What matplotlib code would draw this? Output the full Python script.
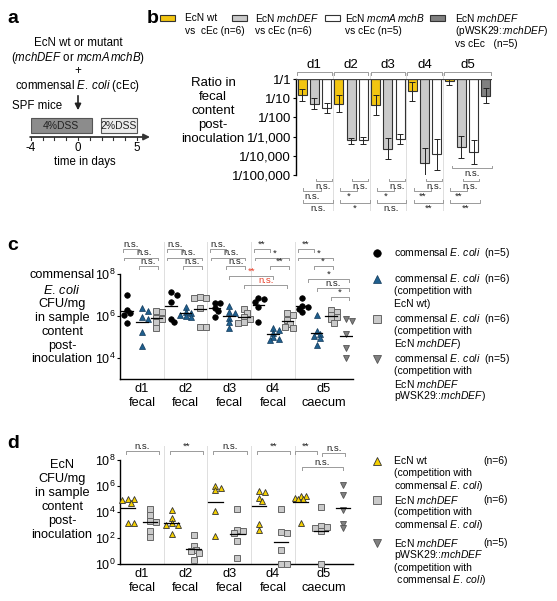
import numpy as np
import matplotlib
matplotlib.use('Agg')
import matplotlib.pyplot as plt
from matplotlib.lines import Line2D
from matplotlib.patches import Rectangle, FancyArrowPatch
from matplotlib.transforms import blended_transform_factory as btf

plt.rcParams['font.family'] = ['Liberation Sans', 'DejaVu Sans']
plt.rcParams['mathtext.fontset'] = 'custom'
plt.rcParams['mathtext.rm'] = 'Liberation Sans'
plt.rcParams['mathtext.it'] = 'Liberation Sans:italic'
plt.rcParams['mathtext.bf'] = 'Liberation Sans:bold'

# ------------------------------------------------------------------ data
days = ['d1', 'd2', 'd3', 'd4', 'd5']
sites = ['fecal', 'fecal', 'fecal', 'fecal', 'caecum']

# panel a: DSS schedule (days)
dss_labels = ['4%DSS', '2%DSS']
dss_start = [-4.0, 1.95]
dss_end = [1.15, 5.0]
dss_colors = ['#8c8c8c', '#ececec']
time_ticks = list(range(-4, 6))
time_labels = {-4: '-4', 0: '0', 5: '5'}

# panel b: log10 ratio EcN / cEc (bar value, lower, upper error bound)
b_wt = [-0.84, -1.32, -1.37, -0.63, -0.10]
b_wt_lo = [-1.16, -1.74, -1.90, -1.16, -0.30]
b_wt_hi = [-0.53, -0.84, -0.84, -0.16, 0.00]
b_mch = [-1.32, -3.20, -3.63, -4.37, -3.53]
b_mch_lo = [-1.58, -3.40, -4.16, -5.05, -4.10]
b_mch_hi = [-1.00, -3.05, -3.05, -3.58, -2.95]
b_mcm = [-1.53, -3.16, -3.10, -3.90, -3.79]
b_mcm_lo = [-1.79, -3.37, -3.37, -4.74, -4.42]
b_mcm_hi = [-1.26, -3.00, -2.84, -3.10, -3.20]
b_comp = [None, None, None, None, -0.89]
b_comp_lo = [None, None, None, None, -1.26]
b_comp_hi = [None, None, None, None, -0.47]
b_ticklabels = ['1/100,000', '1/10,000', '1/1,000', '1/100', '1/10', '1/1']
b_sig_row1 = ['n.s.', 'n.s.', 'n.s.', 'n.s.', 'n.s.']   # mchDEF vs mcmA mchB
b_sig_row2 = ['n.s.', '*', '*', '**', '**']              # wt vs mchDEF
b_sig_row3 = ['n.s.', '*', 'n.s.', '**', '**']           # wt vs mcmA mchB
b_sig_d5 = 'n.s.'                                        # wt vs complemented

# panel c: log10 CFU/mg commensal E. coli
c_cec = [[6.99, 6.28, 6.13, 6.05, 5.65], [7.12, 7.02, 6.69, 5.87, 5.70],
         [6.62, 6.60, 6.40, 6.25, 5.95], [6.88, 6.79, 6.68, 6.44, 5.73],
         [6.85, 6.50, 6.42, 6.35, 6.20]]
c_vs_wt = [[6.36, 6.25, 5.95, 5.84, 5.26, 4.58], [6.45, 6.18, 6.12, 6.05, 5.98, 5.95],
           [6.50, 6.20, 6.15, 5.90, 5.70, 5.45], [5.45, 5.35, 5.20, 5.00, 4.90, 4.85],
           [6.05, 5.30, 5.15, 5.05, 4.95, 4.62]]
c_vs_mch = [[6.25, 6.18, 5.92, 5.85, 5.70, 5.43], [6.90, 6.85, 6.85, 6.36, 5.48, 5.48],
            [6.31, 6.13, 5.97, 5.84, 5.73, 5.65], [6.16, 6.05, 5.81, 5.61, 5.50, 5.42],
            [6.28, 6.18, 6.05, 5.95, 5.84, 5.68]]
c_vs_comp = [None, None, None, None, [5.86, 5.78, 5.14, 4.46, 3.99]]
c_sig_row1 = ['n.s.', 'n.s.', 'n.s.', '**', '**']
c_sig_row2 = ['n.s.', 'n.s.', 'n.s.', '*', '*']
c_sig_row3 = ['n.s.', 'n.s.', 'n.s.', '**', '*']
c_sig_d5_extra = ['*', 'n.s.', '*']
c_sig_red = ['**', 'n.s.']

# panel d: log10 CFU/mg EcN
d_wt = [[5.03, 4.97, 4.90, 4.72, 3.18, 3.18], [4.15, 3.56, 3.18, 2.97, 2.97, 2.28],
        [6.02, 5.84, 5.66, 4.07, 2.13], [5.64, 5.54, 5.08, 4.82, 3.08, 2.64],
        [5.23, 5.20, 5.10, 5.02, 5.00, 3.15]]
d_mch = [[4.26, 3.74, 3.31, 3.23, 2.54, 2.10], [2.20, 1.35, 1.05, 1.02, 0.84, 0.33],
         [4.25, 2.64, 2.56, 2.38, 1.74, 0.46], [4.23, 2.43, 2.38, 1.10, 0.0, 0.0],
         [4.38, 2.90, 2.85, 2.77, 2.56, 0.0]]
d_comp = [None, None, None, None, [6.05, 5.33, 4.18, 3.10, 2.77]]
d_sig = ['n.s.', '**', 'n.s.', '**', '**']
d_sig_d5 = ['n.s.', 'n.s.']

# ------------------------------------------------------------------ helpers
W, H = 557, 601
fig = plt.figure(figsize=(W / 100, H / 100), dpi=100)

ECOLI = r'$\mathit{E.\,coli}$'


def fx(x):
    return x / W


def fy(y):
    return 1 - y / H


def T(x, y, s, size=7.5, ha='left', va='center', **kw):
    return fig.text(fx(x), fy(y), s, fontsize=size, ha=ha, va=va, **kw)


def rect(x0, y0, x1, y1):
    return [x0 / W, 1 - y1 / H, (x1 - x0) / W, (y1 - y0) / H]


def mark(x, y, **kw):
    fig.add_artist(Line2D([fx(x)], [fy(y)], transform=fig.transFigure, **kw))


GR = '#9a9a9a'
SEP = '#dedede'
YEL = '#f2c511'
LGR = '#cacaca'
DGR = '#808080'
BLU = '#1f5f8e'
RED = '#e8402a'

slot_start = [0, 3, 6, 9, 12]
seps = [2.5, 5.5, 8.5, 11.5]


def bracket(ax, x0, x1, ypx, label, up=True, text_below=True, color='#222', lcol=GR,
            size=6.8, tx=None):
    tr = btf(ax.transData, fig.transFigure)
    d = 2.5 if up else -2.5
    ax.plot([x0, x0, x1, x1], [fy(ypx - d), fy(ypx), fy(ypx), fy(ypx - d)],
            transform=tr, color=lcol, lw=0.7, clip_on=False)
    xt = (x0 + x1) / 2 if tx is None else tx
    if text_below:
        ax.text(xt, fy(ypx + 1.0), label, transform=tr, ha='center', va='top',
                fontsize=size, color=color)
    else:
        ax.text(xt, fy(ypx - 0.2), label, transform=tr, ha='center', va='bottom',
                fontsize=size, color=color)


def vsep(ax, x, ytop, ybot):
    tr = btf(ax.transData, fig.transFigure)
    ax.plot([x, x], [fy(ytop), fy(ybot)], transform=tr, color=SEP, lw=0.7, clip_on=False, zorder=0)


# ------------------------------------------------------------------ panel a
T(7, 23, 'a', size=14, va='baseline', weight='bold')
T(78, 43, 'EcN wt or mutant', size=8.3, ha='center')
T(78, 58, r'($\mathit{mchDEF}$ or $\mathit{mcmA\,mchB}$)', size=8.3, ha='center')
T(78, 71, '+', size=8.3, ha='center')
T(78, 86, 'commensal ' + ECOLI + ' (cEc)', size=8.3, ha='center')
T(12, 106, 'SPF mice', size=8.3)
fig.add_artist(FancyArrowPatch((fx(78), fy(93)), (fx(78), fy(113)), transform=fig.transFigure,
                               arrowstyle='-|>', mutation_scale=9, lw=1.2, color='#222'))
ax_a = fig.add_axes(rect(30.7, 112, 150, 142))
ax_a.set_xlim(-4, 6.1)
ax_a.set_ylim(142, 112)
ax_a.axis('off')
for lab, d0, d1, fc in zip(dss_labels, dss_start, dss_end, dss_colors):
    ax_a.add_patch(Rectangle((d0, 118), d1 - d0, 15, fc=fc, ec='#555', lw=0.8))
    ax_a.text((d0 + d1) / 2, 126, lab, ha='center', va='center', fontsize=7.5, color='#222')
ax_a.annotate('', xy=(6.1, 137), xytext=(-4.05, 137),
              arrowprops=dict(arrowstyle='-|>', lw=1.3, color='#333', mutation_scale=9,
                              shrinkA=0, shrinkB=0))
for d in time_ticks:
    ax_a.plot([d, d], [137, 140.5], color='#333', lw=0.8, clip_on=False)
    if d in time_labels:
        ax_a.text(d, 148, time_labels[d], ha='center', va='center', fontsize=8.3, clip_on=False)
ax_a.text(0.6, 162, 'time in days', ha='center', va='center', fontsize=8.3, clip_on=False)

# ------------------------------------------------------------------ panel b
T(147, 23, 'b', size=14, va='baseline', weight='bold')
leg_b = [
    (160, YEL, ['EcN wt', 'vs  cEc (n=6)'], 185),
    (232, LGR, [r'EcN $\mathit{mchDEF}$', 'vs cEc (n=6)'], 255),
    (325, 'white', [r'EcN $\mathit{mcmA\,mchB}$', 'vs cEc (n=5)'], 345),
    (430, DGR, [r'EcN $\mathit{mchDEF}$', r'(pWSK29::$\mathit{mchDEF}$)', 'vs cEc   (n=5)'], 455),
]
for bx, col, lines, tx in leg_b:
    fig.add_artist(Rectangle((fx(bx), fy(21)), 15 / W, 6 / H, transform=fig.transFigure,
                             fc=col, ec='#333', lw=0.8))
    for k, s in enumerate(lines):
        T(tx, 18 + 13 * k, s, size=7.3)

ax_b = fig.add_axes(rect(296, 79, 492, 175))
ax_b.set_yscale('log')
ax_b.set_ylim(1e-5, 1)
ax_b.set_xlim(-0.5, 15.5)
series_b = [(b_wt, b_wt_lo, b_wt_hi, YEL), (b_mch, b_mch_lo, b_mch_hi, LGR),
            (b_mcm, b_mcm_lo, b_mcm_hi, 'white'), (b_comp, b_comp_lo, b_comp_hi, DGR)]
for j, (vals, lo, hi, col) in enumerate(series_b):
    for i in range(5):
        if vals[i] is None:
            continue
        x = slot_start[i] + j
        v = 10 ** vals[i]
        ax_b.bar(x, v - 1, bottom=1, width=0.72, color=col, edgecolor='#333', lw=0.8, zorder=2)
        ax_b.errorbar(x, v, yerr=[[v - 10 ** lo[i]], [10 ** hi[i] - v]], fmt='none',
                      ecolor='#222', elinewidth=0.7, capsize=2, capthick=0.7, zorder=3)
ax_b.axhline(1, color='#444', lw=1.6, zorder=4)
for s in ['top', 'right', 'bottom']:
    ax_b.spines[s].set_visible(False)
ax_b.spines['left'].set_linewidth(1.0)
ax_b.set_yticks([1e-5, 1e-4, 1e-3, 1e-2, 1e-1, 1])
ax_b.set_yticklabels(b_ticklabels)
ax_b.yaxis.set_minor_locator(matplotlib.ticker.NullLocator())
ax_b.tick_params(axis='y', length=2.5, width=0.8, pad=1, labelsize=9.5)
ax_b.set_xticks([])
for x in seps:
    vsep(ax_b, x, 73, 210)
day_end_b = [2, 5, 8, 11, 15]
for i in range(5):
    x0, x1 = slot_start[i] - 0.4, day_end_b[i] + 0.4
    bracket(ax_b, x0, x1, 72, '', up=False, text_below=False)
    ax_b.text((slot_start[i] + day_end_b[i]) / 2, fy(65), days[i],
              transform=btf(ax_b.transData, fig.transFigure),
              ha='center', va='center', fontsize=9.5)
    s0 = slot_start[i]
    bracket(ax_b, s0 + 1.1, s0 + 2.4, 181, b_sig_row1[i], up=True)
    bracket(ax_b, s0 + 0.1, s0 + 1.5, 191, b_sig_row2[i], up=True)
    bracket(ax_b, s0 + 0.1, s0 + 2.5, 203, b_sig_row3[i], up=True)
bracket(ax_b, 12.2, 15.5, 168, b_sig_d5, up=True)
T(213, 111, 'Ratio in\nfecal\ncontent\npost-\ninoculation', size=9.5, ha='center',
  multialignment='center')


# ------------------------------------------------------------------ swarm helper
def swarm(vals, center, pxdec, pxslot, r=4.2, step=0.2):
    placed, out = [], np.zeros(len(vals))
    for i in range(len(vals)):
        y = vals[i] * pxdec
        best, bestd = 0.0, -1
        for k in [0, 1, -1, 2, -2]:
            xo = k * step * pxslot
            dmin = min([np.hypot(xo - px, y - py) for px, py in placed] + [99])
            if dmin >= r:
                best = xo
                break
            if dmin > bestd:
                best, bestd = xo, dmin
        placed.append((best, y))
        out[i] = center + best / pxslot
    return out


def setup_scatter_axes(ax, ylim, ticks):
    ax.set_yscale('log')
    ax.set_ylim(*ylim)
    ax.set_xlim(-0.5, 15.5)
    for s in ['top', 'right']:
        ax.spines[s].set_visible(False)
    ax.spines['left'].set_linewidth(1.0)
    ax.spines['bottom'].set_linewidth(1.0)
    ax.set_yticks(ticks)
    ax.set_yticklabels([r'10$^{%d}$' % int(np.log10(t)) for t in ticks])
    ax.yaxis.set_minor_locator(matplotlib.ticker.NullLocator())
    ax.tick_params(axis='y', length=2.5, width=0.8, pad=1, labelsize=9)
    centers = [1, 4, 7, 10, 13.5]
    ax.set_xticks(centers)
    ax.set_xticklabels([f'{d}\n{s}' for d, s in zip(days, sites)])
    ax.tick_params(axis='x', length=0, pad=3, labelsize=9.2)


# ------------------------------------------------------------------ panel c
T(7, 250, 'c', size=14, va='baseline', weight='bold')
ax_c = fig.add_axes(rect(120, 274, 353, 379))
setup_scatter_axes(ax_c, (1e3, 1e8), [1e4, 1e6, 1e8])
pxslot = 233 / 16.0
series_c = [(c_cec, dict(marker='o', mfc='black', mec='black', ms=4.0, mew=0.5)),
            (c_vs_wt, dict(marker='^', mfc=BLU, mec='#12395a', ms=4.4, mew=0.5)),
            (c_vs_mch, dict(marker='s', mfc=LGR, mec='#666', ms=4.2, mew=0.7)),
            (c_vs_comp, dict(marker='v', mfc=DGR, mec='#555', ms=4.4, mew=0.6))]
for j, (data, st) in enumerate(series_c):
    for i in range(5):
        if data[i] is None:
            continue
        vals = np.array(data[i])
        xc = slot_start[i] + j
        xs = swarm(vals, xc, 21.0, pxslot)
        ax_c.plot(xs, 10 ** vals, ls='none', clip_on=False, zorder=3, **st)
        m = vals.mean()
        ax_c.plot([xc - 0.4, xc + 0.4], [10 ** m, 10 ** m], color='black', lw=0.9, zorder=4)
for x in seps:
    vsep(ax_c, x, 242, 379)
for i in range(5):
    s0 = slot_start[i]
    bracket(ax_c, s0 - 0.3, s0 + 0.8, 249, c_sig_row1[i], up=False, text_below=False)
    bracket(ax_c, s0 - 0.25, s0 + 2.1, 257.5, c_sig_row2[i], up=False, text_below=False,
            tx=s0 + 1.15)
    bracket(ax_c, s0 + 0.8, s0 + 2.1, 266, c_sig_row3[i], up=False, text_below=False)
bracket(ax_c, 12.4, 15.2, 279, c_sig_d5_extra[0], up=False, text_below=False)
bracket(ax_c, 13.0, 15.2, 288, c_sig_d5_extra[1], up=False, text_below=False)
bracket(ax_c, 14.0, 15.2, 297, c_sig_d5_extra[2], up=False, text_below=False)
bracket(ax_c, 7.0, 10.0, 276, c_sig_red[0], up=False, text_below=False, color=RED)
bracket(ax_c, 8.0, 11.0, 285, c_sig_red[1], up=False, text_below=False, color=RED)
T(62, 317.5, 'commensal\n' + ECOLI + '\nCFU/mg\nin sample\ncontent\npost-\ninoculation',
  size=9.2, ha='center', multialignment='center')

leg_c = [
    (253, series_c[0][1], ['commensal ' + ECOLI + '  (n=5)']),
    (279, series_c[1][1], ['commensal ' + ECOLI + '  (n=6)', '(competition with', 'EcN wt)']),
    (319, series_c[2][1], ['commensal ' + ECOLI + '  (n=6)', '(competition with',
                           r'EcN $\mathit{mchDEF}$)']),
    (359, series_c[3][1], ['commensal ' + ECOLI + '  (n=5)', '(competition with',
                           r'EcN $\mathit{mchDEF}$', r'pWSK29::$\mathit{mchDEF}$)']),
]
for y0, st, lines in leg_c:
    st2 = dict(st)
    st2['ms'] = st2['ms'] * 1.35
    mark(377, y0, ls='none', **st2)
    for k, s in enumerate(lines):
        T(394, y0 + 12.3 * k, s, size=7.5)

# ------------------------------------------------------------------ panel d
T(7, 448, 'd', size=14, va='baseline', weight='bold')
ax_d = fig.add_axes(rect(120, 460, 353, 564))
setup_scatter_axes(ax_d, (1, 1e8), [1, 1e2, 1e4, 1e6, 1e8])
d_offsets = [[0.05, 1.55], [0.05, 1.55], [0.05, 1.55], [0.05, 1.55], [-0.1, 1.3, 2.8]]
series_d = [(d_wt, dict(marker='^', mfc='#f5d000', mec='#333', ms=4.4, mew=0.6)),
            (d_mch, dict(marker='s', mfc=LGR, mec='#666', ms=4.2, mew=0.7)),
            (d_comp, dict(marker='v', mfc=DGR, mec='#555', ms=4.4, mew=0.6))]
for j, (data, st) in enumerate(series_d):
    for i in range(5):
        if data[i] is None:
            continue
        vals = np.array(data[i])
        xc = slot_start[i] + d_offsets[i][j]
        xs = swarm(vals, xc, 13.0, pxslot)
        ax_d.plot(xs, 10 ** vals, ls='none', clip_on=False, zorder=3, **st)
        m = vals.mean()
        ax_d.plot([xc - 0.5, xc + 0.5], [10 ** m, 10 ** m], color='black', lw=0.9, zorder=4)
for x in seps:
    vsep(ax_d, x, 446, 564)
for i in range(4):
    s0 = slot_start[i]
    bracket(ax_d, s0 - 0.1, s0 + 2.2, 451, d_sig[i], up=False, text_below=False)
bracket(ax_d, 11.5, 13.0, 451, d_sig[4], up=False, text_below=False)
bracket(ax_d, 13.4, 14.95, 453, d_sig_d5[0], up=False, text_below=False)
bracket(ax_d, 12.0, 14.8, 467, d_sig_d5[1], up=False, text_below=False)
T(62, 500, 'EcN\nCFU/mg\nin sample\ncontent\npost-\ninoculation',
  size=9.2, ha='center', multialignment='center')

leg_d = [
    (461, series_d[0][1], ['EcN wt', '(competition with', 'commensal ' + ECOLI + ')'], '(n=6)'),
    (500, series_d[1][1], [r'EcN $\mathit{mchDEF}$', '(competition with',
                           'commensal ' + ECOLI + ')'], '(n=6)'),
    (543, series_d[2][1], [r'EcN $\mathit{mchDEF}$', r'pWSK29::$\mathit{mchDEF}$', '(competition with',
                           ' commensal ' + ECOLI + ')'], '(n=5)'),
]
for y0, st, lines, n in leg_d:
    st2 = dict(st)
    st2['ms'] = st2['ms'] * 1.35
    mark(377, y0, ls='none', **st2)
    for k, s in enumerate(lines):
        T(394, y0 + 12.3 * k, s, size=7.5)
    T(483, y0, n, size=7.5)

fig.savefig('out.png', dpi=100)
